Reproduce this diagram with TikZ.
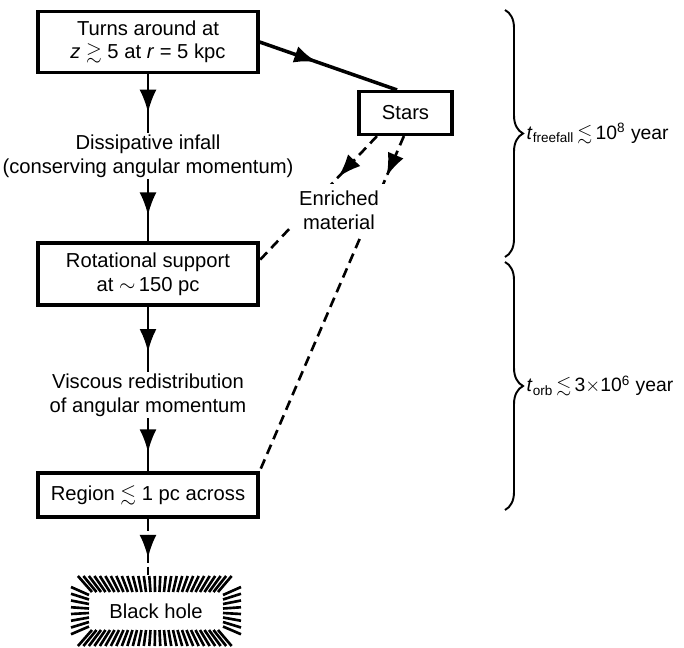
\documentclass[tikz,border=0pt]{standalone}
\usepackage{amssymb}
\usepackage{fontspec}
\setmainfont{Liberation Sans}
\usetikzlibrary{arrows.meta,calc,decorations.markings,decorations.pathreplacing}

\begin{document}
\begin{tikzpicture}[x=0.2mm,y=-0.2mm,
  font=\fontsize{11.5}{13.6}\selectfont,
  box/.style={draw,line width=1.8pt,minimum width=44mm,minimum height=12.2mm,align=center,inner sep=1pt},
  note/.style={align=center,inner sep=1pt},
  midarrow/.style={postaction={decorate},decoration={markings,
    mark=at position #1 with {\arrow{Latex[length=4.6mm,width=3.4mm]}}}},
  link/.style={line width=1.5pt},
  dashlink/.style={line width=1.5pt,dash pattern=on 2mm off 1.2mm},
  brace/.style={decorate,decoration={brace,amplitude=3.6mm},line width=1.1pt},
  ray/.style={line width=1.5pt},
  span/.style={midway,right=3.8mm,inner sep=1pt,font=\fontsize{11}{13}\selectfont}]
  \useasboundingbox (0,0) rectangle (684,648);

  \node[box] (turn) at (148,42) {Turns around at\\\textit{z} $\gtrsim$ 5 at \textit{r} = 5 kpc};
  \node[note] (infall) at (148,156) {Dissipative infall\\(conserving angular momentum)};
  \node[box,minimum height=12.4mm] (rot) at (148,274) {Rotational support\\at $\sim$\,150 pc};
  \node[note] (visc) at (148,395) {Viscous redistribution\\of angular momentum};
  \node[box,minimum height=8.8mm] (region) at (148,495) {Region $\lesssim$ 1 pc across};
  \node[minimum width=34.4mm,minimum height=14.4mm,inner sep=0pt] (bh) at (156,611) {Black hole};
  \node[box,minimum width=18.6mm,minimum height=8.6mm] (stars) at (405.5,113) {Stars};

  \draw[link,midarrow=0.66] (turn) -- (infall);
  \draw[link,midarrow=0.58] (infall) -- (rot);
  \draw[link,midarrow=0.7] (rot) -- (visc);
  \draw[link,midarrow=0.64] (visc) -- (region);
  \draw[link,line width=1.1pt,dash pattern=on 2.4mm off 0.8mm,midarrow=0.7] (region.south) -- (region.south |- bh.north);
  \draw[link,line width=2pt,midarrow=0.42] (turn.east) -- ([xshift=-1.7mm]stars.north);

  \draw[dashlink,midarrow=0.33] (stars.-141) -- (rot.7);
  \draw[dashlink,midarrow=0.12] (stars.-94) -- (region.north east);
  \node[note,fill=white,inner sep=4pt] (enriched) at (339,210) {Enriched\\material};

  \foreach \t in {-64,-59.5,...,64} {
    \draw[ray] ($(bh.center)+(\t,-19)$) -- ($(bh.center)+({1.22*\t},-35)$);
    \draw[ray] ($(bh.center)+(\t,19)$) -- ($(bh.center)+({1.22*\t},35)$);
  }
  \foreach \s in {-16,-11.5,...,17} {
    \draw[ray] ($(bh.center)+(-67,\s)$) -- ($(bh.center)+(-85,{1.5*\s})$);
    \draw[ray] ($(bh.center)+(67,\s)$) -- ($(bh.center)+(85,{1.5*\s})$);
  }

  \draw[brace] (505,10) -- (505,257)
    node[span] (tfree) {\textit{t}\textsubscript{freefall}\,$\lesssim$\,10\textsuperscript{8} year};
  \draw[brace] (505,262) -- (505,510)
    node[span] (torb) {\textit{t}\textsubscript{orb}\,$\lesssim$\,3$\times$10\textsuperscript{6} year};
\end{tikzpicture}
\end{document}
